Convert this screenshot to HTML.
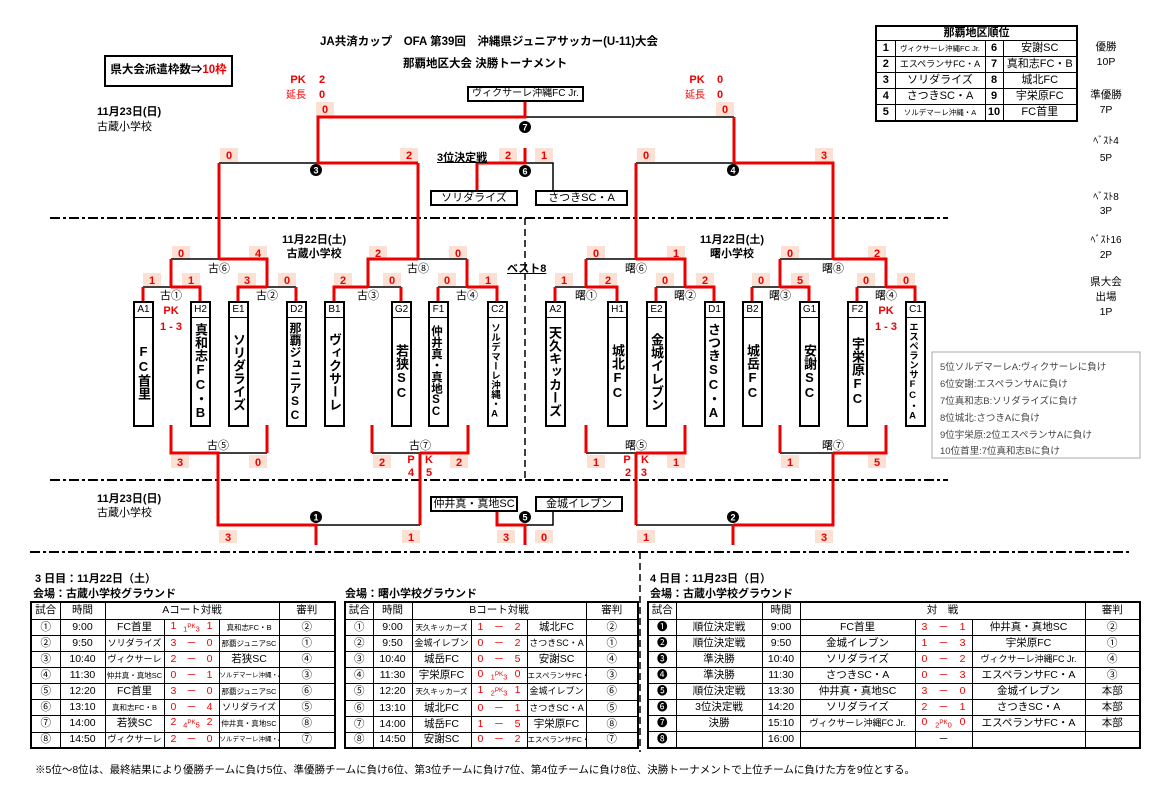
<!DOCTYPE html>
<html><head><meta charset="utf-8">
<style>
*{margin:0;padding:0;box-sizing:border-box}
body{width:1164px;height:807px;background:#fff;position:relative;overflow:hidden;font-family:"Liberation Sans","Noto Sans CJK JP",sans-serif;color:#000}
.a{position:absolute;white-space:nowrap}
.b{font-weight:bold}
.tm{position:absolute;width:21px;border:2px solid #000;background:#fff}
.tm .l{height:15px;border-bottom:1.5px solid #000;font-size:10px;text-align:center;line-height:14px}
.tm .n{height:107px;writing-mode:vertical-rl;text-orientation:upright;font-weight:bold;font-size:13px;display:flex;align-items:center;justify-content:center;line-height:17px;white-space:nowrap}
table{border-collapse:collapse;position:absolute;table-layout:fixed;font-size:10.5px}
td{border:1px solid #000;text-align:center;padding:0;white-space:nowrap;overflow:hidden;line-height:13px}
.t{border:2.5px solid #000}
.r{color:#e00}
.sc{display:flex;justify-content:space-between;padding:0 6px;color:#e00}
.s8{font-size:7.5px}
.s9{font-size:9px}
</style></head><body>
<svg class="a" style="left:0;top:0" width="1164" height="807" viewBox="0 0 1164 807">
<g stroke="#000" stroke-width="2" fill="none" stroke-dasharray="10 3 3 3">
<line x1="50" y1="218" x2="948" y2="218"/>
<line x1="50" y1="480" x2="948" y2="480"/>
<line x1="30" y1="552" x2="1130" y2="552"/>
</g>
<g stroke="#000" stroke-width="1.5" fill="none" stroke-dasharray="7 4">
<line x1="525" y1="218" x2="525" y2="480"/>
<line x1="640" y1="552" x2="640" y2="752"/>
</g>
<g fill="#fbe0d3">
<rect x="316" y="102" width="18" height="14"/><rect x="716" y="102" width="18" height="14"/>
<rect x="220" y="148" width="18" height="14"/><rect x="400" y="148" width="18" height="14"/>
<rect x="637" y="148" width="18" height="14"/><rect x="815" y="148" width="18" height="14"/>
<rect x="499" y="148" width="18" height="14"/><rect x="535" y="148" width="18" height="14"/>
<rect x="172" y="246" width="18" height="13"/><rect x="249" y="246" width="18" height="13"/>
<rect x="369" y="246" width="18" height="13"/><rect x="449" y="246" width="18" height="13"/>
<rect x="587" y="246" width="18" height="13"/><rect x="667" y="246" width="18" height="13"/>
<rect x="781" y="246" width="18" height="13"/><rect x="868" y="246" width="18" height="13"/>
<rect x="143" y="273" width="18" height="13"/><rect x="182" y="273" width="18" height="13"/>
<rect x="238" y="273" width="18" height="13"/><rect x="278" y="273" width="18" height="13"/>
<rect x="334" y="273" width="18" height="13"/><rect x="383" y="273" width="18" height="13"/>
<rect x="438" y="273" width="18" height="13"/><rect x="479" y="273" width="18" height="13"/>
<rect x="555" y="273" width="18" height="13"/><rect x="599" y="273" width="18" height="13"/>
<rect x="656" y="273" width="18" height="13"/><rect x="696" y="273" width="18" height="13"/>
<rect x="752" y="273" width="18" height="13"/><rect x="791" y="273" width="18" height="13"/>
<rect x="857" y="273" width="18" height="13"/><rect x="897" y="273" width="18" height="13"/>
<rect x="171" y="455" width="18" height="13"/><rect x="249" y="455" width="18" height="13"/>
<rect x="373" y="455" width="18" height="13"/><rect x="450" y="455" width="18" height="13"/>
<rect x="587" y="455" width="18" height="13"/><rect x="667" y="455" width="18" height="13"/>
<rect x="781" y="455" width="18" height="13"/><rect x="868" y="455" width="18" height="13"/>
<rect x="219" y="530" width="18" height="13"/><rect x="402" y="530" width="18" height="13"/>
<rect x="497" y="530" width="18" height="13"/><rect x="535" y="530" width="18" height="13"/>
<rect x="637" y="530" width="18" height="13"/><rect x="815" y="530" width="18" height="13"/>
</g>
<g stroke="#000" stroke-width="1.5" fill="none">
<path d="M525 117H734M219 163H318M636 163H734M525 163H553V190M171 259H219M418 259H467M586 259H636M780 259H833"/>
<path d="M143 287H171M267 287H296M368 287H401M438 287H467M555 287H586M656 287H685M752 287H780M857 287H886"/>
<path d="M218 453H267M372 453H420M586 453H636M780 453H833M316 525H420M525 525H553V511M636 525H733"/>
</g>
<g stroke="#e00" stroke-width="3" fill="none">
<path d="M525 101V117H318V163M734 117V163H833V259M418 163H318M219 163V259M418 163V259M636 163V259"/>
<path d="M525 148V163H477V190"/>
<path d="M171 287V259M219 259H267V287M368 287V259H418M467 259V287M586 287V259M636 259H685V287M780 287V259M833 259H886V287"/>
<path d="M143 301V287M171 287H200V301M238 301V287H267M296 287V301M334 301V287H368M401 287V301M438 301V287M467 287H497V301"/>
<path d="M555 301V287M586 287H617V301M656 301V287M685 287H714V301M752 301V287M780 287H809V301M857 301V287M886 287H915V301"/>
<path d="M171 425V453H218V525H316V545M267 425V453M372 425V453M420 453H468V425M420 453V525"/>
<path d="M497 511V525H525V545"/>
<path d="M586 425V453M636 453H685V425M636 453V525M733 525H833V453M833 453H886V425M780 425V453M733 525V545"/>
</g>
<g fill="#000"><circle cx="525" cy="127" r="6"/><circle cx="316" cy="170" r="6"/><circle cx="733" cy="170" r="6"/><circle cx="525" cy="171" r="6"/><circle cx="316" cy="517" r="6"/><circle cx="525" cy="517" r="6"/><circle cx="733" cy="517" r="6"/></g>
<g fill="#fff" font-size="9" font-weight="bold" text-anchor="middle" font-family="Liberation Sans,sans-serif">
<text x="525" y="130.5">7</text><text x="316" y="173.5">3</text><text x="733" y="173.5">4</text><text x="525" y="174.5">6</text><text x="316" y="520.5">1</text><text x="525" y="520.5">5</text><text x="733" y="520.5">2</text></g>
<g fill="#e00" font-size="11" font-weight="bold" text-anchor="middle" font-family="Liberation Sans,sans-serif">
<text x="325" y="113">0</text><text x="725" y="113">0</text>
<text x="229" y="159">0</text><text x="409" y="159">2</text><text x="646" y="159">0</text><text x="824" y="159">3</text>
<text x="508" y="159">2</text><text x="544" y="159">1</text>
<text x="181" y="257">0</text><text x="258" y="257">4</text><text x="378" y="257">2</text><text x="458" y="257">0</text>
<text x="596" y="257">0</text><text x="676" y="257">1</text><text x="790" y="257">0</text><text x="877" y="257">2</text>
<text x="152" y="284">1</text><text x="191" y="284">1</text><text x="247" y="284">3</text><text x="287" y="284">0</text>
<text x="343" y="284">2</text><text x="392" y="284">0</text><text x="447" y="284">0</text><text x="488" y="284">1</text>
<text x="564" y="284">1</text><text x="608" y="284">2</text><text x="665" y="284">0</text><text x="705" y="284">2</text>
<text x="761" y="284">0</text><text x="800" y="284">5</text><text x="866" y="284">0</text><text x="906" y="284">0</text>
<text x="180" y="466">3</text><text x="258" y="466">0</text><text x="382" y="466">2</text><text x="459" y="466">2</text>
<text x="596" y="466">1</text><text x="676" y="466">1</text><text x="790" y="466">1</text><text x="877" y="466">5</text>
<text x="228" y="541">3</text><text x="411" y="541">1</text><text x="506" y="541">3</text><text x="544" y="541">0</text>
<text x="646" y="541">1</text><text x="824" y="541">3</text>
<text x="171" y="314">PK</text><text x="171" y="330">1 - 3</text><text x="886" y="314">PK</text><text x="886" y="330">1 - 3</text>
<text x="411" y="463">P</text><text x="429" y="463">K</text><text x="411" y="476">4</text><text x="429" y="476">5</text>
<text x="627" y="463">P</text><text x="645" y="463">K</text><text x="636" y="476">2 - 3</text>
<text x="298" y="83">PK</text><text x="322" y="83">2</text><text x="720" y="83">0</text><text x="697" y="83">PK</text>
<text x="322" y="98">0</text><text x="720" y="98">0</text>
</g>
<g fill="#e00" font-size="10" text-anchor="middle" font-family="Liberation Sans,Noto Sans CJK JP,sans-serif">
<text x="296" y="98">延長</text><text x="695" y="98">延長</text></g>
<g font-size="11" text-anchor="middle" font-family="Liberation Sans,Noto Sans CJK JP,sans-serif">
<text x="219" y="272">古⑥</text><text x="418" y="272">古⑧</text><text x="636" y="272">曙⑥</text><text x="833" y="272">曙⑧</text>
<text x="171" y="299">古①</text><text x="267" y="299">古②</text><text x="368" y="299">古③</text><text x="467" y="299">古④</text>
<text x="586" y="299">曙①</text><text x="685" y="299">曙②</text><text x="780" y="299">曙③</text><text x="886" y="299">曙④</text>
<text x="218" y="449">古⑤</text><text x="420" y="449">古⑦</text><text x="636" y="449">曙⑤</text><text x="833" y="449">曙⑦</text>
</g>
<rect x="932" y="352" width="208" height="106" fill="none" stroke="#aaa" stroke-width="1"/>
<g font-size="9.5" fill="#444" font-family="Liberation Sans,Noto Sans CJK JP,sans-serif">
<text x="940" y="370">5位ソルデマーレA:ヴィクサーレに負け</text>
<text x="940" y="387">6位安謝:エスペランサAに負け</text>
<text x="940" y="404">7位真和志B:ソリダライズに負け</text>
<text x="940" y="421">8位城北:さつきAに負け</text>
<text x="940" y="438">9位宇栄原:2位エスペランサAに負け</text>
<text x="940" y="454">10位首里:7位真和志Bに負け</text>
</g>
</svg>

<div class="a b" style="left:320px;top:33px;font-size:11.5px">JA共済カップ　OFA 第39回　沖縄県ジュニアサッカー(U-11)大会</div>
<div class="a b" style="left:403px;top:55px;font-size:11.5px">那覇地区大会 決勝トーナメント</div>
<div class="a b" style="left:104px;top:55px;width:129px;height:32px;border:2.5px solid #000;font-size:11.5px;line-height:27px;text-align:center">県大会派遣枠数⇒<span class="r">10枠</span></div>
<div class="a b" style="left:97px;top:103px;font-size:11px">11月23日(日)</div>
<div class="a" style="left:97px;top:118px;font-size:11px">古蔵小学校</div>
<div class="a" style="left:467px;top:86px;width:117px;height:16px;border:2px solid #000;font-size:10px;line-height:12px;text-align:center">ヴィクサーレ沖縄FC Jr.</div>
<div class="a b" style="left:437px;top:149px;font-size:11px;text-decoration:underline">3位決定戦</div>
<div class="a" style="left:430px;top:190px;width:88px;height:16px;border:2px solid #000;font-size:11px;line-height:12px;text-align:center">ソリダライズ</div>
<div class="a" style="left:535px;top:190px;width:93px;height:16px;border:2px solid #000;font-size:11px;line-height:12px;text-align:center">さつきSC・A</div>
<div class="a b" style="left:282px;top:233px;font-size:11px;text-align:center;line-height:14px">11月22日(土)<br>古蔵小学校</div>
<div class="a b" style="left:692px;top:233px;font-size:11px;text-align:center;line-height:14px;width:80px">11月22日(土)<br>曙小学校</div>
<div class="a b" style="left:507px;top:260px;font-size:11px;text-decoration:underline">ベスト8</div>
<div class="a b" style="left:97px;top:490px;font-size:11px">11月23日(日)</div>
<div class="a" style="left:97px;top:504px;font-size:11px">古蔵小学校</div>
<div class="a" style="left:430px;top:496px;width:88px;height:16px;border:2px solid #000;font-size:11px;line-height:12px;text-align:center">仲井真・真地SC</div>
<div class="a" style="left:535px;top:496px;width:88px;height:16px;border:2px solid #000;font-size:11px;line-height:12px;text-align:center">金城イレブン</div>

<div class="tm" style="left:133px;top:301px"><div class="l">A1</div><div class="n">FC首里</div></div>
<div class="tm" style="left:190px;top:301px"><div class="l">H2</div><div class="n">真和志FC・B</div></div>
<div class="tm" style="left:228px;top:301px"><div class="l">E1</div><div class="n">ソリダライズ</div></div>
<div class="tm" style="left:286px;top:301px"><div class="l">D2</div><div class="n" style="font-size:12px;line-height:13px">那覇ジュニアSC</div></div>
<div class="tm" style="left:324px;top:301px"><div class="l">B1</div><div class="n">ヴィクサーレ</div></div>
<div class="tm" style="left:391px;top:301px"><div class="l">G2</div><div class="n">若狭SC</div></div>
<div class="tm" style="left:428px;top:301px"><div class="l">F1</div><div class="n" style="font-size:11.5px;line-height:12px">仲井真・真地SC</div></div>
<div class="tm" style="left:487px;top:301px"><div class="l">C2</div><div class="n" style="font-size:9.5px;line-height:10px">ソルデマーレ沖縄・A</div></div>
<div class="tm" style="left:545px;top:301px"><div class="l">A2</div><div class="n" style="line-height:15px">天久キッカーズ</div></div>
<div class="tm" style="left:607px;top:301px"><div class="l">H1</div><div class="n">城北FC</div></div>
<div class="tm" style="left:646px;top:301px"><div class="l">E2</div><div class="n">金城イレブン</div></div>
<div class="tm" style="left:704px;top:301px"><div class="l">D1</div><div class="n" style="line-height:14px">さつきSC・A</div></div>
<div class="tm" style="left:742px;top:301px"><div class="l">B2</div><div class="n">城岳FC</div></div>
<div class="tm" style="left:799px;top:301px"><div class="l">G1</div><div class="n">安謝SC</div></div>
<div class="tm" style="left:847px;top:301px"><div class="l">F2</div><div class="n">宇栄原FC</div></div>
<div class="tm" style="left:905px;top:301px"><div class="l">C1</div><div class="n" style="font-size:9.5px;line-height:10px">エスペランサFC・A</div></div>

<table class="t" style="left:875px;top:25px;width:203px;font-size:11px">
<colgroup><col style="width:19px"><col style="width:90px"><col style="width:18px"><col></colgroup>
<tr style="height:13px"><td colspan="4" class="b">那覇地区順位</td></tr>
<tr style="height:16px"><td class="b">1</td><td class="s8">ヴィクサーレ沖縄FC Jr.</td><td class="b">6</td><td>安謝SC</td></tr>
<tr style="height:16px"><td class="b">2</td><td class="s9">エスペランサFC・A</td><td class="b">7</td><td>真和志FC・B</td></tr>
<tr style="height:16px"><td class="b">3</td><td>ソリダライズ</td><td class="b">8</td><td>城北FC</td></tr>
<tr style="height:16px"><td class="b">4</td><td>さつきSC・A</td><td class="b">9</td><td>宇栄原FC</td></tr>
<tr style="height:16px"><td class="b">5</td><td class="s8">ソルデマーレ沖縄・A</td><td class="b">10</td><td>FC首里</td></tr>
</table>
<div class="a" style="left:1086px;top:40px;width:40px;font-size:10.5px;text-align:center;line-height:15px">優勝<br>10P</div>
<div class="a" style="left:1086px;top:88px;width:40px;font-size:10.5px;text-align:center;line-height:15px">準優勝<br>7P</div>
<div class="a" style="left:1086px;top:133px;width:40px;font-size:10px;text-align:center;line-height:17px">ﾍﾞｽﾄ4<br>5P</div>
<div class="a" style="left:1086px;top:191px;width:40px;font-size:10px;text-align:center;line-height:14px">ﾍﾞｽﾄ8<br>3P</div>
<div class="a" style="left:1086px;top:233px;width:40px;font-size:10px;text-align:center;line-height:15px">ﾍﾞｽﾄ16<br>2P</div>
<div class="a" style="left:1086px;top:275px;width:40px;font-size:10.5px;text-align:center;line-height:15px">県大会<br>出場<br>1P</div>

<div class="a b" style="left:35px;top:570px;font-size:11px">3 日目：11月22日（土）</div>
<div class="a b" style="left:33px;top:585px;font-size:11px">会場：古蔵小学校グラウンド</div>
<div class="a b" style="left:345px;top:585px;font-size:11px">会場：曙小学校グラウンド</div>
<div class="a b" style="left:650px;top:570px;font-size:11px">4 日目：11月23日（日）</div>
<div class="a b" style="left:650px;top:585px;font-size:11px">会場：古蔵小学校グラウンド</div>

<table class="t" style="left:30px;top:601px;width:306px">
<colgroup><col style="width:29px"><col style="width:45px"><col style="width:59px"><col style="width:55px"><col style="width:60px"><col></colgroup>
<tr style="height:17px"><td>試合</td><td>時間</td><td colspan="3">Aコート対戦</td><td>審判</td></tr>
<tr style="height:16px"><td>①</td><td>9:00</td><td>FC首里</td><td><div class="sc"><span>1</span><span class="s8">1<sup>PK</sup>3</span><span>1</span></div></td><td class="s8">真和志FC・B</td><td>②</td></tr>
<tr style="height:16px"><td>②</td><td>9:50</td><td class="s9">ソリダライズ</td><td><div class="sc"><span>3</span><span>－</span><span>0</span></div></td><td class="s8">那覇ジュニアSC</td><td>①</td></tr>
<tr style="height:16px"><td>③</td><td>10:40</td><td class="s9">ヴィクサーレ</td><td><div class="sc"><span>2</span><span>－</span><span>0</span></div></td><td>若狭SC</td><td>④</td></tr>
<tr style="height:16px"><td>④</td><td>11:30</td><td class="s8">仲井真・真地SC</td><td><div class="sc"><span>0</span><span>－</span><span>1</span></div></td><td class="s8" style="font-size:6.5px">ソルデマーレ沖縄・A</td><td>③</td></tr>
<tr style="height:16px"><td>⑤</td><td>12:20</td><td>FC首里</td><td><div class="sc"><span>3</span><span>－</span><span>0</span></div></td><td class="s8">那覇ジュニアSC</td><td>⑥</td></tr>
<tr style="height:16px"><td>⑥</td><td>13:10</td><td class="s8">真和志FC・B</td><td><div class="sc"><span>0</span><span>－</span><span>4</span></div></td><td class="s9">ソリダライズ</td><td>⑤</td></tr>
<tr style="height:16px"><td>⑦</td><td>14:00</td><td>若狭SC</td><td><div class="sc"><span>2</span><span class="s8">4<sup>PK</sup>5</span><span>2</span></div></td><td class="s8">仲井真・真地SC</td><td>⑧</td></tr>
<tr style="height:16px"><td>⑧</td><td>14:50</td><td class="s9">ヴィクサーレ</td><td><div class="sc"><span>2</span><span>－</span><span>0</span></div></td><td class="s8" style="font-size:6.5px">ソルデマーレ沖縄・A</td><td>⑦</td></tr>
</table>

<table class="t" style="left:344px;top:601px;width:295px">
<colgroup><col style="width:28px"><col style="width:39px"><col style="width:59px"><col style="width:56px"><col style="width:59px"><col></colgroup>
<tr style="height:17px"><td>試合</td><td>時間</td><td colspan="3">Bコート対戦</td><td>審判</td></tr>
<tr style="height:16px"><td>①</td><td>9:00</td><td class="s8">天久キッカーズ</td><td><div class="sc"><span>1</span><span>－</span><span>2</span></div></td><td>城北FC</td><td>②</td></tr>
<tr style="height:16px"><td>②</td><td>9:50</td><td class="s9">金城イレブン</td><td><div class="sc"><span>0</span><span>－</span><span>2</span></div></td><td class="s9">さつきSC・A</td><td>①</td></tr>
<tr style="height:16px"><td>③</td><td>10:40</td><td>城岳FC</td><td><div class="sc"><span>0</span><span>－</span><span>5</span></div></td><td>安謝SC</td><td>④</td></tr>
<tr style="height:16px"><td>④</td><td>11:30</td><td>宇栄原FC</td><td><div class="sc"><span>0</span><span class="s8">1<sup>PK</sup>3</span><span>0</span></div></td><td class="s8">エスペランサFC・A</td><td>③</td></tr>
<tr style="height:16px"><td>⑤</td><td>12:20</td><td class="s8">天久キッカーズ</td><td><div class="sc"><span>1</span><span class="s8">2<sup>PK</sup>3</span><span>1</span></div></td><td class="s9">金城イレブン</td><td>⑥</td></tr>
<tr style="height:16px"><td>⑥</td><td>13:10</td><td>城北FC</td><td><div class="sc"><span>0</span><span>－</span><span>1</span></div></td><td class="s9">さつきSC・A</td><td>⑤</td></tr>
<tr style="height:16px"><td>⑦</td><td>14:00</td><td>城岳FC</td><td><div class="sc"><span>1</span><span>－</span><span>5</span></div></td><td>宇栄原FC</td><td>⑧</td></tr>
<tr style="height:16px"><td>⑧</td><td>14:50</td><td>安謝SC</td><td><div class="sc"><span>0</span><span>－</span><span>2</span></div></td><td class="s8">エスペランサFC・A</td><td>⑦</td></tr>
</table>

<table class="t" style="left:647px;top:601px;width:494px">
<colgroup><col style="width:28px"><col style="width:86px"><col style="width:38px"><col style="width:115px"><col style="width:57px"><col style="width:113px"><col></colgroup>
<tr style="height:17px"><td>試合</td><td></td><td>時間</td><td colspan="3">対　戦</td><td>審判</td></tr>
<tr style="height:16px"><td>❶</td><td>順位決定戦</td><td>9:00</td><td>FC首里</td><td><div class="sc"><span>3</span><span>－</span><span>1</span></div></td><td>仲井真・真地SC</td><td>②</td></tr>
<tr style="height:16px"><td>❷</td><td>順位決定戦</td><td>9:50</td><td>金城イレブン</td><td><div class="sc"><span>1</span><span>－</span><span>3</span></div></td><td>宇栄原FC</td><td>①</td></tr>
<tr style="height:16px"><td>❸</td><td>準決勝</td><td>10:40</td><td>ソリダライズ</td><td><div class="sc"><span>0</span><span>－</span><span>2</span></div></td><td class="s9">ヴィクサーレ沖縄FC Jr.</td><td>④</td></tr>
<tr style="height:16px"><td>❹</td><td>準決勝</td><td>11:30</td><td>さつきSC・A</td><td><div class="sc"><span>0</span><span>－</span><span>3</span></div></td><td>エスペランサFC・A</td><td>③</td></tr>
<tr style="height:16px"><td>❺</td><td>順位決定戦</td><td>13:30</td><td>仲井真・真地SC</td><td><div class="sc"><span>3</span><span>－</span><span>0</span></div></td><td>金城イレブン</td><td>本部</td></tr>
<tr style="height:16px"><td>❻</td><td>3位決定戦</td><td>14:20</td><td>ソリダライズ</td><td><div class="sc"><span>2</span><span>－</span><span>1</span></div></td><td>さつきSC・A</td><td>本部</td></tr>
<tr style="height:16px"><td>❼</td><td>決勝</td><td>15:10</td><td class="s9">ヴィクサーレ沖縄FC Jr.</td><td><div class="sc"><span>0</span><span class="s8">2<sup>PK</sup>0</span><span>0</span></div></td><td>エスペランサFC・A</td><td>本部</td></tr>
<tr style="height:16px"><td>❽</td><td></td><td>16:00</td><td></td><td>－</td><td></td><td></td></tr>
</table>

<div class="a" style="left:35px;top:762px;font-size:10.5px">※5位～8位は、最終結果により優勝チームに負け5位、準優勝チームに負け6位、第3位チームに負け7位、第4位チームに負け8位、決勝トーナメントで上位チームに負けた方を9位とする。</div>
</body></html>
